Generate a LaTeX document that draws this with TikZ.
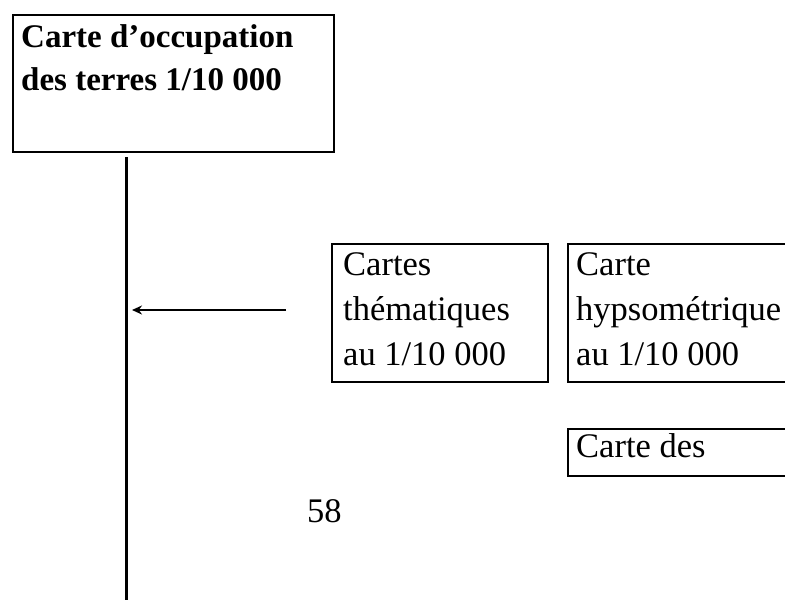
\documentclass[tikz,border=0pt]{standalone}
\usepackage{fontspec}
\setmainfont{Liberation Serif}
\usetikzlibrary{arrows.meta}
\begin{document}
\begin{tikzpicture}[x=1pt,y=-1pt,
  boxnode/.style={draw=black,line width=2.4pt,inner sep=0pt,anchor=north west},
  txt/.style={inner sep=0pt,anchor=base west,font=\fontsize{34.5}{44}\selectfont},
  btxt/.style={txt,font=\fontsize{33}{44}\selectfont\bfseries},
  conn/.style={line width=2.4pt},
  arr/.style={line width=2.4pt,-{Stealth[length=10pt,width=9pt]}}]
\useasboundingbox (0,0) rectangle (785,600);
\clip (0,0) rectangle (785,600);
% main box
\node[boxnode,minimum width=321pt,minimum height=137pt] (main) at (12,14) {};
\node[btxt] (m1) at (21,47) {Carte d’occupation};
\node[btxt] (m2) at (21,90) {des terres 1/10 000};
% vertical trunk
\coordinate (vtop) at (126.5,157);
\coordinate (vbot) at (126.5,600);
\draw[conn] (vtop) -- (vbot);
% thematic box
\node[boxnode,minimum width=216pt,minimum height=138pt] (them) at (331,243) {};
\node[txt] (t1) at (343,275) {Cartes};
\node[txt] (t2) at (343,320) {thématiques};
\node[txt] (t3) at (343,365) {au 1/10 000};
% arrow
\coordinate (astart) at (286,310);
\coordinate (aend) at (132,310);
\draw[arr] (astart) -- (aend);
% hypsometric box
\node[boxnode,minimum width=240pt,minimum height=138pt] (hyps) at (567,243) {};
\node[txt] (h1) at (576,275) {Carte};
\node[txt] (h2) at (576,320) {hypsométrique};
\node[txt] (h3) at (576,365) {au 1/10 000};
% carte des box
\node[boxnode,minimum width=240pt,minimum height=47pt] (des) at (567,428) {};
\node[txt] (d1) at (576,457) {Carte des};
% page number
\node[txt] (pg) at (307,522) {58};
\end{tikzpicture}
\end{document}
